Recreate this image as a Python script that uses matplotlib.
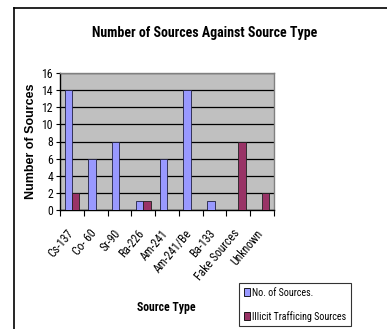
import matplotlib
matplotlib.use("Agg")
import matplotlib.pyplot as plt
import matplotlib.transforms as mtransforms
import numpy as np
from matplotlib.lines import Line2D
from matplotlib.patches import Patch

plt.rcParams['font.family'] = ['Roboto Condensed', 'DejaVu Sans']

categories = ["Cs-137", "Co- 60", "Sr-90", "Ra-226", "Am-241", "Am-241/Be",
              "Ba-133", "Fake Sources", "Unknown"]
num_sources = [14, 6, 8, 1, 6, 14, 1, 0, 0]
illicit_sources = [2, 0, 0, 1, 0, 0, 0, 8, 2]
y_ticks = [0, 2, 4, 6, 8, 10, 12, 14, 16]

blue = "#9999FF"
plum = "#993366"

fig = plt.figure(figsize=(3.87, 3.29), dpi=100)
ax = fig.add_axes([60/387, 1 - 210/329, (274 - 60)/387, (210 - 73)/329])
ax.set_facecolor("#C0C0C0")

x = np.arange(len(categories))
w = 0.31
ax.bar(x - w/2, num_sources, w, color=blue, edgecolor="#202040", linewidth=0.6,
       label="No. of Sources.", zorder=3)
ax.bar(x + w/2, illicit_sources, w, color=plum, edgecolor="#202020", linewidth=0.6,
       label="Illicit Trafficing Sources", zorder=3)

ax.set_xlim(-0.5, len(categories) - 0.5)
ax.set_ylim(0, 16)
ax.set_yticks(y_ticks)
ax.yaxis.grid(True, color="black", linewidth=0.9, zorder=1)
ax.set_axisbelow(True)

# tick marks between categories, category names rotated below the axis
ax.set_xticks(np.arange(len(categories) + 1) - 0.5)
ax.set_xticklabels([])
ax.tick_params(axis="x", length=4, width=0.8, direction="out")
ax.tick_params(axis="y", length=3, width=0.8, labelsize=8.5, pad=2)
label_tr = (mtransforms.blended_transform_factory(ax.transData, ax.transAxes)
            + mtransforms.ScaledTranslation(-6/100, -17/100, fig.dpi_scale_trans))
for xi, name in zip(x, categories):
    ax.text(xi, 0, name, transform=label_tr, rotation=50, ha="right", va="top",
            rotation_mode="anchor", fontsize=8.5, clip_on=False)

for s in ["top", "right"]:
    ax.spines[s].set_color("#808080")
    ax.spines[s].set_linewidth(1.0)
for s in ["left", "bottom"]:
    ax.spines[s].set_color("black")
    ax.spines[s].set_linewidth(1.0)

ax.set_ylabel("Number of Sources", fontsize=9, fontweight="bold",
              family=['Liberation Sans', 'DejaVu Sans'], labelpad=3)
fig.text(166/387, 1 - 308/329, "Source Type", fontsize=8.5, fontweight="bold",
         ha="center", va="center")
fig.text(205/387, 1 - 33/329, "Number of Sources Against Source Type",
         fontsize=10, fontweight="bold", ha="center", va="center")

handles = [Patch(facecolor=blue, edgecolor="black", linewidth=0.6),
           Patch(facecolor=plum, edgecolor="black", linewidth=0.6)]
leg = fig.legend(handles, ["No. of Sources.", "Illicit Trafficing Sources"],
                 loc="lower left", bbox_to_anchor=(239/387, 1 - 326/329),
                 fontsize=7.2, frameon=True, fancybox=False, edgecolor="black",
                 handlelength=0.6, handleheight=0.9, handletextpad=0.3,
                 borderpad=0.45, labelspacing=1.3, borderaxespad=0)
leg.get_frame().set_linewidth(0.8)

# outer frame (left and top edges)
fig.add_artist(Line2D([13.5/387, 13.5/387], [1 - 329/329, 1 - 8/329],
                      transform=fig.transFigure, color="black", linewidth=1.2))
fig.add_artist(Line2D([13.5/387, 1.0], [1 - 8/329, 1 - 8/329],
                      transform=fig.transFigure, color="black", linewidth=1.2))

fig.savefig("out.png", dpi=100, facecolor="white")
